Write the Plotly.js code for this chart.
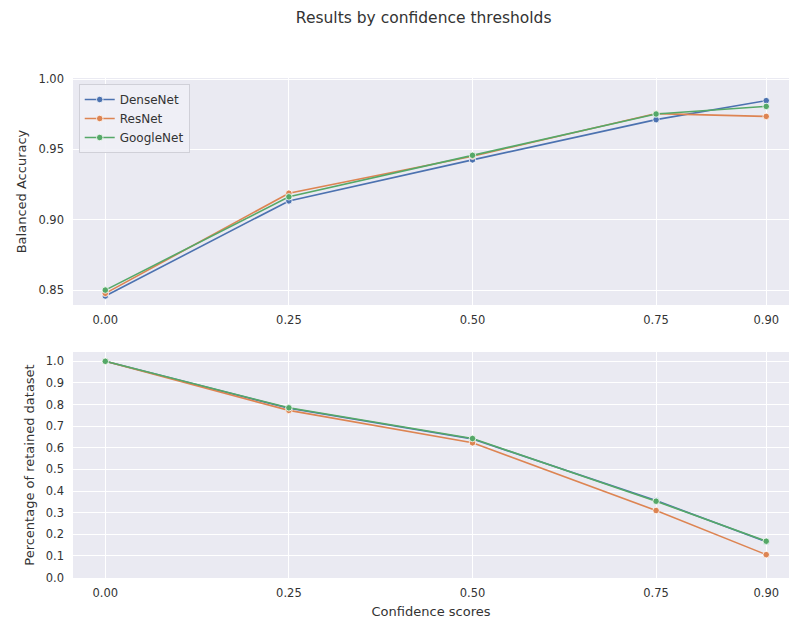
<!DOCTYPE html>
<html>
<head>
<meta charset="utf-8">
<script src="https://cdn.plot.ly/plotly-3.0.1.min.js"></script>
<style>html,body{margin:0;padding:0;background:#fff;overflow:hidden}</style>
</head>
<body>
<div id="chart" style="width:789px;height:622px"></div>
<script>
const thresholds = [0.0, 0.25, 0.5, 0.75, 0.9];
const tickLabels = ['0.00', '0.25', '0.50', '0.75', '0.90'];
const models = ['DenseNet', 'ResNet', 'GoogleNet'];
const colors = ['#4c72b0', '#dd8452', '#55a868'];

const accDenseNet = [0.8458, 0.9134, 0.9426, 0.9712, 0.9847];
const accResNet = [0.8477, 0.9189, 0.9452, 0.9755, 0.9735];
const accGoogleNet = [0.8500, 0.9163, 0.9458, 0.9752, 0.9806];

const retDenseNet = [1.0, 0.783, 0.641, 0.356, 0.166];
const retResNet = [1.0, 0.773, 0.623, 0.310, 0.106];
const retGoogleNet = [1.0, 0.785, 0.643, 0.353, 0.168];

const accData = [accDenseNet, accResNet, accGoogleNet];
const retData = [retDenseNet, retResNet, retGoogleNet];

const traces = [];
models.forEach((m, i) => {
  traces.push({
    x: thresholds, y: accData[i], name: m, type: 'scatter', mode: 'lines+markers',
    xaxis: 'x', yaxis: 'y', legendgroup: m,
    line: {color: colors[i], width: 1.6},
    marker: {color: colors[i], size: 6.5, line: {color: '#ffffff', width: 0.8}}
  });
});
models.forEach((m, i) => {
  traces.push({
    x: thresholds, y: retData[i], name: m, type: 'scatter', mode: 'lines+markers',
    xaxis: 'x2', yaxis: 'y2', legendgroup: m, showlegend: false,
    line: {color: colors[i], width: 1.6},
    marker: {color: colors[i], size: 6.5, line: {color: '#ffffff', width: 0.8}}
  });
});

const txt = '#333333';
const fontFam = 'DejaVu Sans, sans-serif';
const xCommon = {
  tickmode: 'array', tickvals: thresholds, ticktext: tickLabels,
  range: [-0.044, 0.931], showgrid: true, gridcolor: '#ffffff', gridwidth: 1,
  zeroline: false, showline: false, ticks: '', ticklabelstandoff: 6,
  tickfont: {size: 11.5, color: txt, family: fontFam}
};

const layout = {
  width: 789, height: 622,
  paper_bgcolor: '#ffffff', plot_bgcolor: '#eaeaf2',
  margin: {l: 73, r: 0, t: 78, b: 44},
  font: {family: fontFam, color: txt},
  title: {text: 'Results by confidence thresholds', x: 0.537, xanchor: 'center',
          y: 0.971, yanchor: 'middle', yref: 'container',
          font: {size: 15.5, color: txt, family: fontFam}},
  xaxis: Object.assign({}, xCommon, {domain: [0, 1], anchor: 'y'}),
  yaxis: {
    domain: [0.546, 1], anchor: 'x', range: [0.8394, 1.0008],
    tickmode: 'array', tickvals: [0.85, 0.90, 0.95, 1.00], ticktext: ['0.85', '0.90', '0.95', '1.00'],
    showgrid: true, gridcolor: '#ffffff', gridwidth: 1, zeroline: false, showline: false,
    ticks: '', ticklabelstandoff: 8,
    tickfont: {size: 11.5, color: txt, family: fontFam},
    title: {text: 'Balanced Accuracy', standoff: 8, font: {size: 13, color: txt, family: fontFam}}
  },
  xaxis2: Object.assign({}, xCommon, {domain: [0, 1], anchor: 'y2',
    title: {text: 'Confidence scores', standoff: 8, font: {size: 13, color: txt, family: fontFam}}}),
  yaxis2: {
    domain: [0, 0.452], anchor: 'x2', range: [-0.002, 1.043],
    tickmode: 'array', tickvals: [0, 0.1, 0.2, 0.3, 0.4, 0.5, 0.6, 0.7, 0.8, 0.9, 1.0],
    ticktext: ['0.0', '0.1', '0.2', '0.3', '0.4', '0.5', '0.6', '0.7', '0.8', '0.9', '1.0'],
    showgrid: true, gridcolor: '#ffffff', gridwidth: 1, zeroline: false, showline: false,
    ticks: '', ticklabelstandoff: 8,
    tickfont: {size: 11.5, color: txt, family: fontFam},
    title: {text: 'Percentage of retained dataset', standoff: 8, font: {size: 13, color: txt, family: fontFam}}
  },
  legend: {
    x: 0.008, y: 0.988, xanchor: 'left', yanchor: 'top',
    bgcolor: 'rgba(240,240,246,0.9)', bordercolor: '#d0d0d8', borderwidth: 1,
    font: {size: 12, color: txt, family: fontFam}, tracegroupgap: 0, itemwidth: 30
  },
  showlegend: true
};

Plotly.newPlot('chart', traces, layout, {displayModeBar: false, staticPlot: true});
</script>
</body>
</html>
